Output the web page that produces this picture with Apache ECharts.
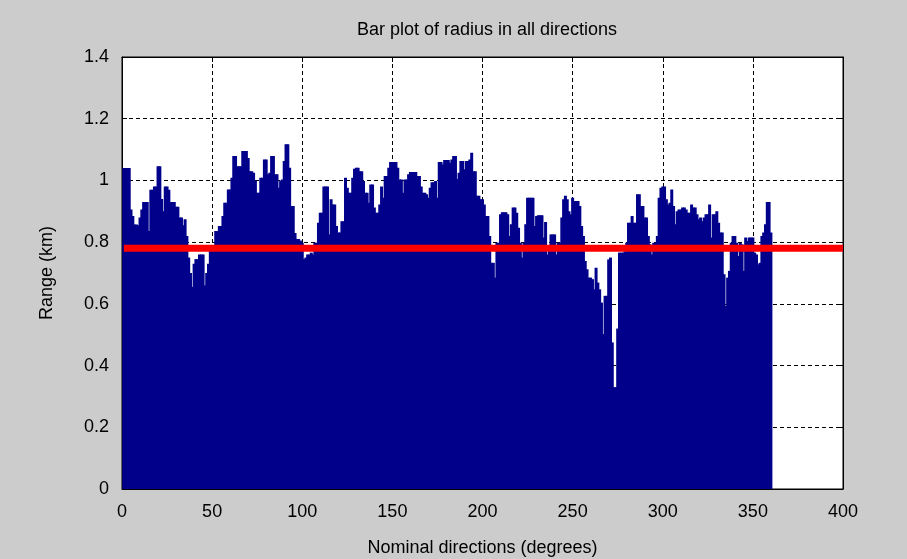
<!DOCTYPE html>
<html>
<head>
<meta charset="utf-8">
<script src="https://cdn.jsdelivr.net/npm/echarts@6/dist/echarts.min.js"></script>
<style>
  html, body { margin: 0; padding: 0; background: #cccccc; }
  #chart { width: 907px; height: 559px; }
</style>
</head>
<body>
<div id="chart"></div>
<script>
// range (km) for each nominal direction 1..360 deg
const ranges = [
  1.04, 1.04, 1.04, 1.04, 0.906, 0.885, 0.857, 0.857, 0.855, 0.88,
  0.906, 0.93, 0.93, 0.93, 0.836, 0.97, 0.97, 0.98, 0.98, 1.046,
  1.046, 0.94, 0.9, 0.98, 0.98, 0.97, 0.93, 0.93, 0.93, 0.915,
  0.915, 0.88, 0.88, 0.855, 0.874, 0.82, 0.75, 0.70, 0.655, 0.73,
  0.745, 0.745, 0.76, 0.76, 0.76, 0.66, 0.70, 0.73, 0.78, 0.78,
  0.77, 0.836, 0.836, 0.852, 0.852, 0.885, 0.928, 0.928, 0.971, 0.971,
  1.009, 1.079, 1.079, 1.046, 1.046, 1.046, 1.095, 1.095, 1.095, 1.073,
  1.03, 1.03, 1.025, 1.0, 0.96, 0.96, 1.009, 1.009, 1.068, 1.068,
  1.02, 1.025, 1.079, 1.079, 1.02, 1.02, 0.976, 1.0, 1.003, 1.063,
  1.117, 1.117, 1.041, 0.917, 0.917, 0.83, 0.81, 0.81, 0.805, 0.798,
  0.745, 0.75, 0.76, 0.76, 0.766, 0.76, 0.798, 0.798, 0.863, 0.895,
  0.895, 0.98, 0.98, 0.98, 0.825, 0.939, 0.922, 0.922, 0.852, 0.831,
  0.831, 0.868, 0.868, 1.009, 0.976, 0.96, 0.96, 1.009, 1.038, 1.041,
  1.041, 1.03, 1.03, 0.998, 0.96, 0.96, 0.928, 0.987, 0.987, 0.912,
  0.895, 0.895, 0.922, 0.98, 0.944, 1.014, 1.014, 1.041, 1.06, 1.06,
  1.06, 1.06, 1.041, 1.003, 1.003, 0.96, 1.003, 1.003, 1.02, 1.027,
  1.027, 1.027, 1.027, 1.014, 1.014, 0.98, 0.96, 0.96, 0.955, 0.944,
  0.976, 0.994, 0.994, 0.998, 0.944, 1.06, 1.06, 1.052, 1.066, 1.066,
  1.066, 1.057, 1.068, 1.079, 1.079, 1.005, 1.025, 1.063, 1.063, 1.036,
  1.063, 1.063, 1.068, 1.09, 1.03, 1.03, 0.95, 0.95, 0.939, 0.939,
  0.922, 0.885, 0.885, 0.82, 0.733, 0.733, 0.685, 0.798, 0.798, 0.89,
  0.897, 0.897, 0.897, 0.89, 0.82, 0.858, 0.912, 0.912, 0.895, 0.847,
  0.798, 0.75, 0.798, 0.858, 0.944, 0.944, 0.944, 0.944, 0.852, 0.885,
  0.887, 0.887, 0.887, 0.815, 0.865, 0.76, 0.771, 0.825, 0.825, 0.825,
  0.76, 0.798, 0.798, 0.88, 0.939, 0.95, 0.939, 0.9, 0.89, 0.944,
  0.933, 0.933, 0.933, 0.917, 0.852, 0.82, 0.739, 0.712, 0.685, 0.685,
  0.68, 0.647, 0.717, 0.669, 0.647, 0.604, 0.502, 0.626, 0.626, 0.744,
  0.75, 0.475, 0.33, 0.33, 0.52, 0.766, 0.766, 0.766, 0.77, 0.798,
  0.863, 0.863, 0.885, 0.863, 0.863, 0.955, 0.955, 0.917, 0.917, 0.88,
  0.88, 0.82, 0.793, 0.76, 0.798, 0.798, 0.82, 0.944, 0.976, 0.98,
  0.98, 0.939, 0.922, 0.928, 0.971, 0.917, 0.858, 0.9, 0.906, 0.906,
  0.912, 0.912, 0.906, 0.895, 0.895, 0.922, 0.912, 0.912, 0.89, 0.874,
  0.88, 0.868, 0.88, 0.89, 0.89, 0.922, 0.815, 0.89, 0.89, 0.9,
  0.863, 0.831, 0.831, 0.696, 0.593, 0.685, 0.707, 0.798, 0.82, 0.82,
  0.798, 0.755, 0.798, 0.793, 0.707, 0.815, 0.804, 0.815, 0.815, 0.815,
  0.766, 0.76, 0.728, 0.733, 0.82, 0.831, 0.858, 0.93, 0.93, 0.831
]
// horizontal reference line (km) and the span it covers (deg)
const refLevel = 0.78
const refSpan = [1, 400]

const xTicks = [0, 50, 100, 150, 200, 250, 300, 350, 400]
const yTicks = [0, 0.2, 0.4, 0.6, 0.8, 1, 1.2, 1.4]

const font = 'Liberation Sans, Arial, sans-serif'
const barData = ranges.map((v, i) => [i + 1, v])

const chart = echarts.init(document.getElementById('chart'))

const tickStyle = { show: true, inside: true, length: 5, lineStyle: { color: '#000' } }
const gridLine = { show: true, lineStyle: { color: '#000', type: [4, 3], width: 1 } }

chart.setOption({
  backgroundColor: '#cccccc',
  animation: false,
  title: {
    text: 'Bar plot of radius in all directions',
    left: 482,
    top: 16,
    textAlign: 'center',
    textStyle: { fontFamily: font, fontSize: 18, fontWeight: 'normal', color: '#000' }
  },
  grid: {
    left: 122,
    top: 57,
    width: 721,
    height: 432,
    outerBoundsMode: 'none',
    containLabel: false,
    show: true,
    backgroundColor: '#ffffff',
    borderColor: '#000',
    borderWidth: 1
  },
  xAxis: [
    {
      type: 'value',
      min: xTicks[0],
      max: xTicks[xTicks.length - 1],
      interval: 50,
      name: 'Nominal directions (degrees)',
      nameLocation: 'middle',
      nameGap: 50,
      nameTextStyle: { fontFamily: font, fontSize: 18, color: '#000' },
      axisLine: { show: true, onZero: false, lineStyle: { color: '#000' } },
      axisTick: tickStyle,
      axisLabel: { fontFamily: font, fontSize: 18, color: '#000', margin: 14 },
      splitLine: gridLine
    },
    {
      type: 'value',
      position: 'top',
      min: xTicks[0],
      max: xTicks[xTicks.length - 1],
      interval: 50,
      axisLine: { show: true, onZero: false, lineStyle: { color: '#000' } },
      axisTick: tickStyle,
      axisLabel: { show: false },
      splitLine: { show: false }
    }
  ],
  yAxis: [
    {
      type: 'value',
      min: yTicks[0],
      max: yTicks[yTicks.length - 1],
      interval: 0.2,
      name: 'Range (km)',
      nameLocation: 'middle',
      nameGap: 66,
      nameTextStyle: { fontFamily: font, fontSize: 18, color: '#000' },
      axisLine: { show: true, onZero: false, lineStyle: { color: '#000' } },
      axisTick: tickStyle,
      axisLabel: {
        fontFamily: font, fontSize: 18, color: '#000', margin: 13,
        formatter: v => String(Math.round(v * 10) / 10)
      },
      splitLine: gridLine
    },
    {
      type: 'value',
      position: 'right',
      min: yTicks[0],
      max: yTicks[yTicks.length - 1],
      interval: 0.2,
      axisLine: { show: true, onZero: false, lineStyle: { color: '#000' } },
      axisTick: tickStyle,
      axisLabel: { show: false },
      splitLine: { show: false }
    }
  ],
  series: [
    {
      type: 'bar',
      xAxisIndex: 0,
      yAxisIndex: 0,
      data: barData,
      barWidth: 3,
      itemStyle: { color: '#00008b' },
      silent: true
    },
    {
      type: 'line',
      xAxisIndex: 0,
      yAxisIndex: 0,
      data: refSpan.map(x => [x, refLevel]),
      symbol: 'none',
      lineStyle: { color: '#ff0000', width: 7 },
      silent: true,
      z: 5
    }
  ]
})
</script>
</body>
</html>
